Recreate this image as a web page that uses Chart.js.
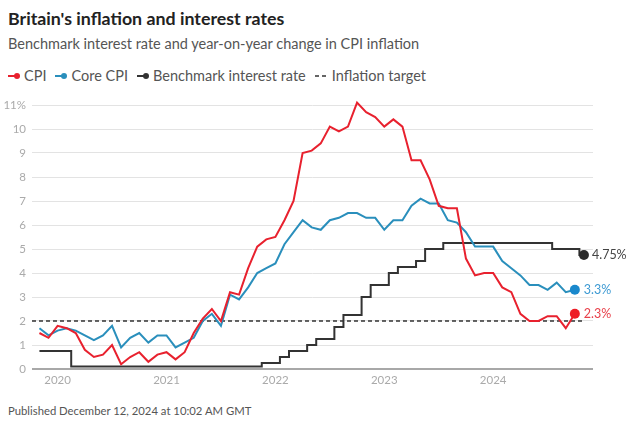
<!DOCTYPE html>
<html>
<head>
<meta charset="utf-8">
<script src="https://cdn.jsdelivr.net/npm/chart.js@4.4.1/dist/chart.umd.min.js"></script>
<style>
  html,body{margin:0;padding:0;background:#fff;}
  body{width:640px;height:422px;position:relative;overflow:hidden;font-family:Lato,"Noto Sans",sans-serif;}
  .t{position:absolute;left:8px;white-space:nowrap;}
  #title{top:7px;font-size:17.8px;font-weight:bold;color:#222;}
  #sub{top:35px;font-size:14.5px;color:#555;}
  #legend{top:67px;font-size:14.5px;color:#555;display:flex;align-items:center;}
  #legend span.item{display:inline-flex;align-items:center;margin-right:9px;}
  #legend svg{margin-right:3px;}
  #foot{top:404px;font-size:11.3px;color:#555;}
  #wrap{position:absolute;left:0;top:90px;width:640px;height:310px;}
</style>
</head>
<body>
<div class="t" id="title">Britain's inflation and interest rates</div>
<div class="t" id="sub">Benchmark interest rate and year-on-year change in CPI inflation</div>
<div class="t" id="legend">
  <span class="item"><svg width="13" height="8"><line x1="0" y1="4" x2="8" y2="4" stroke="#e8212e" stroke-width="2"/><circle cx="9" cy="4" r="3" fill="#e8212e"/></svg>CPI</span>
  <span class="item"><svg width="13" height="8"><line x1="0" y1="4" x2="8" y2="4" stroke="#2a8fbc" stroke-width="2"/><circle cx="9" cy="4" r="3" fill="#2a8fbc"/></svg>Core CPI</span>
  <span class="item"><svg width="13" height="8"><line x1="0" y1="4" x2="8" y2="4" stroke="#333" stroke-width="2"/><circle cx="9" cy="4" r="3" fill="#333"/></svg>Benchmark interest rate</span>
  <span class="item"><svg width="14" height="8"><line x1="0" y1="4" x2="14" y2="4" stroke="#333" stroke-width="1.6" stroke-dasharray="4,3"/></svg>Inflation target</span>
</div>
<div id="wrap"><canvas id="c"></canvas></div>
<div class="t" id="foot">Published December 12, 2024 at 10:02 AM GMT</div>
<script>
// Months: index 0 = Nov 2019
const months = [
  "2019-11","2019-12",
  "2020-01","2020-02","2020-03","2020-04","2020-05","2020-06","2020-07","2020-08","2020-09","2020-10","2020-11","2020-12",
  "2021-01","2021-02","2021-03","2021-04","2021-05","2021-06","2021-07","2021-08","2021-09","2021-10","2021-11","2021-12",
  "2022-01","2022-02","2022-03","2022-04","2022-05","2022-06","2022-07","2022-08","2022-09","2022-10","2022-11","2022-12",
  "2023-01","2023-02","2023-03","2023-04","2023-05","2023-06","2023-07","2023-08","2023-09","2023-10","2023-11","2023-12",
  "2024-01","2024-02","2024-03","2024-04","2024-05","2024-06","2024-07","2024-08","2024-09","2024-10","2024-11"
];
const cpi = [
  1.5,1.3,
  1.8,1.7,1.5,0.8,0.5,0.6,1.0,0.2,0.5,0.7,0.3,0.6,
  0.7,0.4,0.7,1.5,2.1,2.5,2.0,3.2,3.1,4.2,5.1,5.4,
  5.5,6.2,7.0,9.0,9.1,9.4,10.1,9.9,10.1,11.1,10.7,10.5,
  10.1,10.4,10.1,8.7,8.7,7.9,6.8,6.7,6.7,4.6,3.9,4.0,
  4.0,3.4,3.2,2.3,2.0,2.0,2.2,2.2,1.7,2.3
];
const coreCpi = [
  1.7,1.4,
  1.6,1.7,1.6,1.4,1.2,1.4,1.8,0.9,1.3,1.5,1.1,1.4,
  1.4,0.9,1.1,1.3,2.0,2.3,1.8,3.1,2.9,3.4,4.0,4.2,
  4.4,5.2,5.7,6.2,5.9,5.8,6.2,6.3,6.5,6.5,6.3,6.3,
  5.8,6.2,6.2,6.8,7.1,6.9,6.9,6.2,6.1,5.7,5.1,5.1,
  5.1,4.5,4.2,3.9,3.5,3.5,3.3,3.6,3.2,3.3
];
const bankRate = [
  0.75,0.75,
  0.75,0.75,0.1,0.1,0.1,0.1,0.1,0.1,0.1,0.1,0.1,0.1,
  0.1,0.1,0.1,0.1,0.1,0.1,0.1,0.1,0.1,0.1,0.1,0.25,
  0.25,0.5,0.75,0.75,1.0,1.25,1.25,1.75,2.25,2.25,3.0,3.5,
  3.5,4.0,4.25,4.25,4.5,5.0,5.0,5.25,5.25,5.25,5.25,5.25,
  5.25,5.25,5.25,5.25,5.25,5.25,5.25,5.0,5.0,5.0,4.75
];
const inflationTarget = 2;
const yearTicks = [2020,2021,2022,2023,2024];
const yTicks = [0,1,2,3,4,5,6,7,8,9,10,11];

// x value = months since Jan 2020
const xOf = (i) => i - 2;
const X_MIN = -2.82, X_MAX = 59.0;
const toXY = (arr) => arr.map((v, i) => ({x: xOf(i), y: v}));
const lastR = (ctx, n) => ctx.dataIndex === n - 1 ? 5 : 0;

const endLabels = {
  id: 'endLabels',
  afterDatasetsDraw(chart) {
    const ctx = chart.ctx;
    chart.data.datasets.forEach((ds, di) => {
      if (!ds.endLabel) return;
      const meta = chart.getDatasetMeta(di);
      const pt = meta.data[meta.data.length - 1];
      const v = ds.data[ds.data.length - 1].y;
      ctx.save();
      ctx.font = '12.5px Lato, "Noto Sans", sans-serif';
      ctx.fillStyle = ds.endLabel.color;
      ctx.textBaseline = 'middle';
      ctx.textAlign = 'left';
      ctx.fillText(v + '%', pt.x + ds.endLabel.dx, pt.y);
      ctx.restore();
    });
  }
};

new Chart(document.getElementById('c'), {
  type: 'line',
  data: {
    datasets: [
      {
        label: 'Inflation target',
        data: [{x: X_MIN, y: inflationTarget}, {x: xOf(bankRate.length - 1), y: inflationTarget}],
        borderColor: '#333', borderWidth: 1.5, borderDash: [4, 3], pointRadius: 0, order: 4
      },
      {
        label: 'Benchmark interest rate',
        data: toXY(bankRate), stepped: 'middle',
        borderColor: '#333', borderWidth: 2, clip: 10,
        pointRadius: (c) => lastR(c, bankRate.length), pointBackgroundColor: '#2a2a2a', pointBorderWidth: 0,
        endLabel: {color: '#444', dx: 8}, order: 3
      },
      {
        label: 'Core CPI',
        data: toXY(coreCpi), clip: 10,
        borderColor: '#2a8fbc', borderWidth: 2, tension: 0,
        pointRadius: (c) => lastR(c, coreCpi.length), pointBackgroundColor: '#1a88cc', pointBorderWidth: 0,
        endLabel: {color: '#3d9ad3', dx: 9}, order: 2
      },
      {
        label: 'CPI',
        data: toXY(cpi), clip: 10,
        borderColor: '#e8212e', borderWidth: 2, tension: 0,
        pointRadius: (c) => lastR(c, cpi.length), pointBackgroundColor: '#ee1c25', pointBorderWidth: 0,
        endLabel: {color: '#e8414b', dx: 9}, order: 1
      }
    ]
  },
  options: {
    responsive: true, maintainAspectRatio: false, animation: false,
    layout: {padding: {left: 0, right: 47, top: 15, bottom: 0}},
    plugins: {legend: {display: false}, tooltip: {enabled: false}},
    scales: {
      x: {
        type: 'linear', min: X_MIN, max: X_MAX,
        afterBuildTicks: (s) => { s.ticks = yearTicks.map(y => ({value: (y - 2020) * 12})); },
        ticks: {callback: (v) => String(2020 + v / 12), color: '#aaa', font: {size: 11.5, family: 'Lato, "Noto Sans", sans-serif'}, padding: 4, maxRotation: 0, autoSkip: false},
        grid: {display: false, drawTicks: false},
        border: {display: false},
        afterFit: (s) => { s.height = 31; }
      },
      y: {
        min: 0, max: 11,
        afterBuildTicks: (s) => { s.ticks = yTicks.map(v => ({value: v})); },
        ticks: {callback: (v) => v === 11 ? '11%' : String(v), color: '#aaa', font: {size: 11.5, family: 'Lato, "Noto Sans", sans-serif'}, padding: 6},
        grid: {
          color: (c) => c.tick && c.tick.value === 0 ? '#a8a8a8' : '#e3e3e3',
          lineWidth: (c) => c.tick && c.tick.value === 0 ? 2 : 1,
          drawTicks: false
        },
        border: {display: false},
        afterFit: (s) => { s.width = 32; }
      }
    }
  },
  plugins: [endLabels]
});
</script>
</body>
</html>
